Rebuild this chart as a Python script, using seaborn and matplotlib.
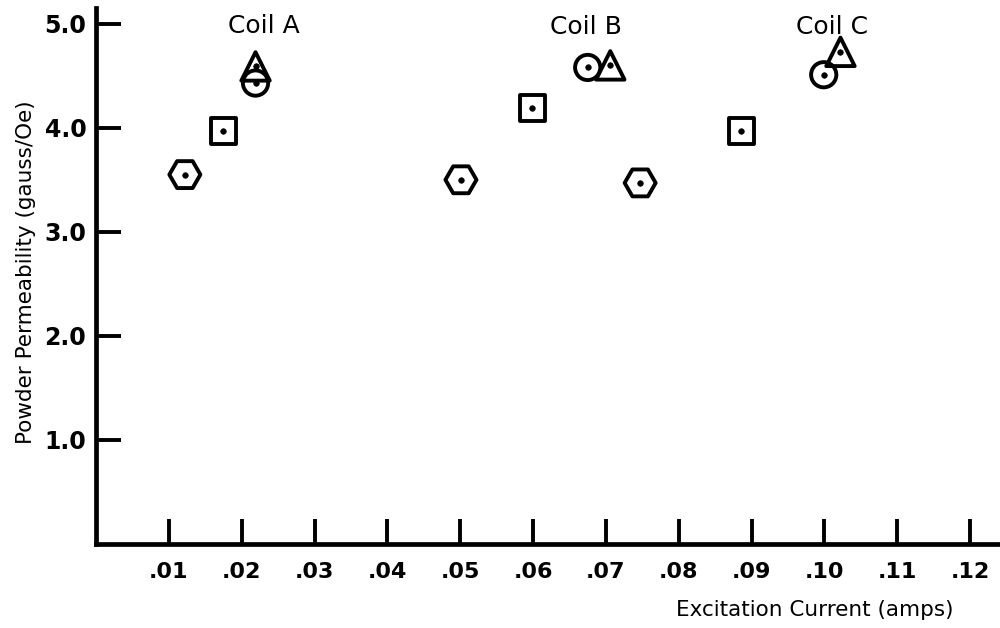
import matplotlib
matplotlib.use("Agg")
import matplotlib.pyplot as plt
import seaborn as sns
import pandas as pd

# ---- data ----
coil = ["A", "A", "A", "A", "B", "B", "B", "B", "C", "C", "C", "C"]
shape = ["hex", "square", "circle", "triangle"] * 3
current = [0.0122, 0.0175, 0.0219, 0.0219,
           0.0501, 0.0599, 0.0675, 0.0706,
           0.0747, 0.0886, 0.0999, 0.1022]
permeability = [3.55, 3.97, 4.43, 4.59,
                3.50, 4.19, 4.58, 4.60,
                3.47, 3.97, 4.51, 4.73]
coil_labels = ["Coil A", "Coil B", "Coil C"]
coil_label_x = [0.0230, 0.0672, 0.1011]
coil_label_y = [4.98, 4.97, 4.97]
x_ticks = [0.01, 0.02, 0.03, 0.04, 0.05, 0.06, 0.07, 0.08, 0.09, 0.10, 0.11, 0.12]
x_tick_labels = [".01", ".02", ".03", ".04", ".05", ".06", ".07", ".08", ".09", ".10", ".11", ".12"]
y_ticks = [1.0, 2.0, 3.0, 4.0, 5.0]
y_tick_labels = ["1.0", "2.0", "3.0", "4.0", "5.0"]

df = pd.DataFrame({"coil": coil, "shape": shape,
                   "current": current, "perm": permeability})

sns.set_theme(style="white")
plt.rcParams["font.family"] = ["DejaVu Sans"]
plt.rcParams["text.color"] = "black"

fig = plt.figure(figsize=(10, 6.28), dpi=100)
ax = fig.add_axes([0.096, 0.134, 0.904, 0.853])

marker_map = {"hex": "H", "square": "s", "circle": "o", "triangle": "^"}
size_map = {"hex": 500, "square": 330, "circle": 330, "triangle": 420}

for shp in ["hex", "square", "circle", "triangle"]:
    sub = df[df["shape"] == shp]
    sns.scatterplot(data=sub, x="current", y="perm", marker=marker_map[shp],
                    s=size_map[shp], facecolor="none", edgecolor="black",
                    linewidth=2.8, ax=ax, legend=False, zorder=3)

# centre dots
sns.scatterplot(data=df, x="current", y="perm", marker="o", s=16,
                color="black", edgecolor="black", linewidth=0.5,
                ax=ax, legend=False, zorder=4)

for lbl, lx, ly in zip(coil_labels, coil_label_x, coil_label_y):
    ax.text(lx, ly, lbl, ha="center", va="center", fontsize=18,
            color="black")

ax.set_xlim(0, 0.1241)
ax.set_ylim(0, 5.15)
ax.set_xticks(x_ticks)
ax.set_xticklabels(x_tick_labels, fontsize=16, fontweight="bold")
ax.set_yticks(y_ticks)
ax.set_yticklabels(y_tick_labels, fontsize=17, fontweight="bold")

ax.tick_params(axis="x", direction="in", length=18, width=2.8, pad=13,
               color="black", labelcolor="black", bottom=True)
ax.tick_params(axis="y", direction="in", length=18, width=2.8, pad=7,
               color="black", labelcolor="black", left=True)

for side in ["top", "right"]:
    ax.spines[side].set_visible(False)
for side in ["left", "bottom"]:
    ax.spines[side].set_linewidth(3.4)
    ax.spines[side].set_color("black")

ax.set_xlabel("")
ax.set_ylabel("")
fig.text(0.815, 0.029, "Excitation Current (amps)", ha="center", va="center",
         fontsize=15.5, color="black")
fig.text(0.026, 0.567, "Powder Permeability (gauss/Oe)", ha="center", va="center",
         rotation=90, fontsize=15.5, color="black")

fig.savefig("out.png", dpi=100, facecolor="white")
